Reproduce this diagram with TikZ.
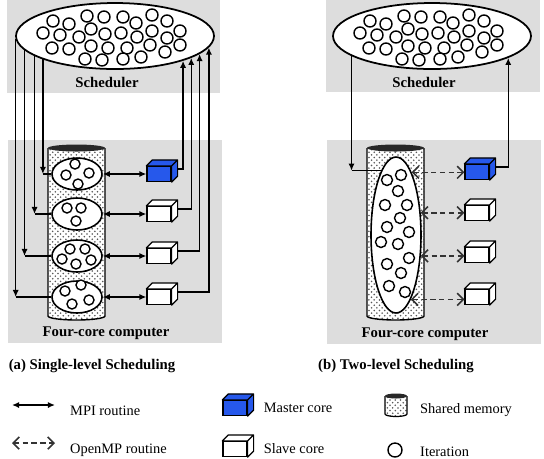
\documentclass[tikz,border=0pt]{standalone}
\usepackage{fontspec}
\setmainfont{Liberation Serif}
\usetikzlibrary{arrows.meta,positioning,calc,shapes.geometric,patterns}
\definecolor{panelgray}{RGB}{221,221,221}
\definecolor{masterblue}{RGB}{38,88,235}
\definecolor{capgray}{RGB}{40,40,40}

\tikzset{
  panel/.style={fill=panelgray},
  sched/.style={draw,ellipse,fill=white,line width=1pt,minimum width=3.96cm,minimum height=1.32cm,inner sep=0pt},
  groupell/.style={draw,ellipse,fill=white,line width=0.9pt,inner sep=0pt},
  iter/.style={draw,line width=0.8pt,fill=white},
  corebox/.style={draw,line width=0.7pt,minimum width=0.48cm,minimum height=0.3cm,inner sep=0pt},
  linkline/.style={line width=0.8pt},
  schedtip/.style={-{Latex[length=4pt,width=3.5pt]}},
  mpi/.style={line width=0.8pt,{Latex[length=4pt,width=3.5pt]}-{Latex[length=4pt,width=3.5pt]}},
  omp/.style={line width=0.9pt,draw=black!80,dash pattern=on 3pt off 2pt,{Straight Barb[length=3.5pt,width=7pt]}-{Straight Barb[length=3.5pt,width=7pt]}},
  paneltitle/.style={font=\fontsize{8.4}{10}\selectfont\bfseries},
  legendtext/.style={font=\fontsize{8.2}{10}\selectfont,anchor=west},
}

\begin{document}
\begin{tikzpicture}[x=0.02cm,y=-0.02cm]
\useasboundingbox (0,0) rectangle (544,458);
% gray panels
\fill[panel] (7,0) rectangle (220,93);
\fill[panel] (8,140) rectangle (222,343);
\fill[panel] (326,0) rectangle (540,92);
\fill[panel] (327,140) rectangle (541,344);

% shared memory cylinders
\foreach \xl/\xr in {48/105,367/424}{
  \fill[white] (\xl,148) -- (\xl,316) arc[start angle=180,end angle=360,x radius=0.57cm,y radius=0.08cm] -- (\xr,148) -- cycle;
  \fill[pattern=crosshatch dots,pattern color=black!65] (\xl,148) -- (\xl,316) arc[start angle=180,end angle=360,x radius=0.57cm,y radius=0.08cm] -- (\xr,148) -- cycle;
  \draw[line width=0.8pt] (\xl,148) -- (\xl,316) arc[start angle=180,end angle=360,x radius=0.57cm,y radius=0.08cm] -- (\xr,148);
  \fill[capgray] ({(\xl+\xr)/2},148) ellipse[x radius=0.57cm,y radius=0.07cm];
}

% iteration groups
\foreach \i/\yy in {1/174,2/214,3/256,4/297}
  \node[groupell,minimum width=1cm,minimum height=0.64cm] (eA\i) at (77,\yy) {};
\node[groupell,minimum width=1cm,minimum height=3.12cm] (eB) at (396,235) {};
\foreach \dx/\dy in {-2/-10,12/-1,-11/1,1/10} \draw[iter] ($(eA1)+(\dx,\dy)$) circle[radius=0.1cm];
\foreach \dx/\dy in {-10/-6,4/-6,-1/7} \draw[iter] ($(eA2)+(\dx,\dy)$) circle[radius=0.1cm];
\foreach \dx/\dy in {-7/-7,8/-7,-15/3,-1/8,14/4} \draw[iter] ($(eA3)+(\dx,\dy)$) circle[radius=0.1cm];
\foreach \dx/\dy in {-12/-6,4/-12,12/3,-5/7} \draw[iter] ($(eA4)+(\dx,\dy)$) circle[radius=0.1cm];
\foreach \dx/\dy in {-9/-55,5/-60,2/-44,-11/-30,11/-30,4/-17,-9/-8,13/-3,-15/7,2/9,-9/29,13/23,5/38,-7/51,9/57}
  \draw[iter] ($(eB)+(\dx,\dy)$) circle[radius=0.11cm];

% schedulers
\node[sched] (schedA) at (115,36) {};
\node[sched] (schedB) at (432,36) {};
\foreach \s in {schedA,schedB}
  \foreach \dx/\dy in {-62/-15,-46/-12,-28/-20,-11/-19,8/-19,21/-13,37/-21,52/-15,
                       -72/-3,-55/-1,-36/1,-24/-7,-10/-2,6/-3,22/1,37/-5,52/2,65/-5,
                       -63/12,-46/13,-24/10,-7/12,12/12,35/9,50/16,65/9,
                       -30/23,-13/24,8/23,26/21}
    \draw[iter] ($(\s)+(\dx,\dy)$) circle[radius=0.12cm];

% cores
\foreach \i/\yy/\col in {1/174/masterblue,2/214/white,3/256/white,4/297/white}
  \node[corebox,fill=\col] (cA\i) at (159,\yy) {};
\foreach \i/\yy/\col in {1/172/masterblue,2/213/white,3/255/white,4/297/white}
  \node[corebox,fill=\col] (cB\i) at (477,\yy) {};
\node[corebox,fill=masterblue] (mkey) at (235,408) {};
\node[corebox,fill=white] (skey) at (235,449) {};
\foreach \c/\col in {cA1/masterblue,cA2/white,cA3/white,cA4/white,cB1/masterblue,cB2/white,cB3/white,cB4/white,mkey/masterblue,skey/white}
  \draw[line width=0.7pt,fill=\col,line join=round] (\c.north west) -- ++(6,-6) -- ($(\c.north east)+(6,-6)$) -- ($(\c.south east)+(6,-6)$) -- (\c.south east) -- (\c.north east) -- cycle (\c.north east) -- ++(6,-6);

% (a) single-level links
\foreach \i/\ang in {1/198.4,2/194.1,3/189.7,4/182.7}{
  \draw[linkline,schedtip] (schedA.\ang) -- (schedA.\ang |- eA\i.west);
  \draw[linkline] (schedA.\ang |- eA\i.west) -- (eA\i.west);
}
\foreach \i/\ang in {1/340.1,2/344.5,3/348.8,4/353.7}
  \draw[linkline,schedtip] ($(cA\i.east)+(6,-5)$) -| (schedA.\ang);
\foreach \i in {1,...,4}
  \draw[mpi] (eA\i.east) -- (cA\i.west);

% (b) two-level links
\draw[linkline,schedtip] (schedB.194.1) -- (schedB.194.1 |- eB.103);
\draw[linkline] (schedB.194.1 |- eB.103) -- (eB.103);
\draw[linkline,schedtip] ($(cB1.east)+(6,-5)$) -| (schedB.344.2);
\foreach \i/\ang in {1/76.9,2/42.5,3/320.4,4/283.8}
  \draw[omp] (eB.\ang) -- (eB.\ang -| cB\i.west);

% labels
\node[paneltitle] (schedAlab) at (107,82) {Scheduler};
\node[paneltitle] (schedBlab) at (424,82) {Scheduler};
\node[paneltitle] (pcA) at (106,333) {Four-core computer};
\node[paneltitle] (pcB) at (425,334) {Four-core computer};
\node[paneltitle] (capA) at (92,366) {(a) Single-level Scheduling};
\node[paneltitle] (capB) at (396,366) {(b) Two-level Scheduling};

% legend
\coordinate (mpiL) at (12,405);
\coordinate (mpiR) at (55,405);
\draw[mpi] (mpiL) -- (mpiR);
\node[legendtext] (mpiT) at (64,411) {MPI routine};
\coordinate (ompL) at (12,443);
\coordinate (ompR) at (55,443);
\draw[omp] (ompL) -- (ompR);
\node[legendtext] (ompT) at (64,450) {OpenMP routine};
\node[legendtext,right=0.2cm of mkey] (mkeyT) {Master core};
\node[legendtext,right=0.2cm of skey] (skeyT) {Slave core};
\fill[white] (385,396) -- (385,414) arc[start angle=180,end angle=360,x radius=0.22cm,y radius=0.05cm] -- (407,396) -- cycle;
\fill[pattern=crosshatch dots,pattern color=black!65] (385,396) -- (385,414) arc[start angle=180,end angle=360,x radius=0.22cm,y radius=0.05cm] -- (407,396) -- cycle;
\draw[line width=0.7pt] (385,396) -- (385,414) arc[start angle=180,end angle=360,x radius=0.22cm,y radius=0.05cm] -- (407,396);
\fill[capgray] (396,396) ellipse[x radius=0.22cm,y radius=0.05cm];
\node[legendtext] (memT) at (414,410) {Shared memory};
\node[draw,circle,line width=0.8pt,minimum size=0.28cm,inner sep=0pt] (ikey) at (395,450) {};
\node[legendtext] (ikeyT) at (414,452) {Iteration};
\end{tikzpicture}
\end{document}
